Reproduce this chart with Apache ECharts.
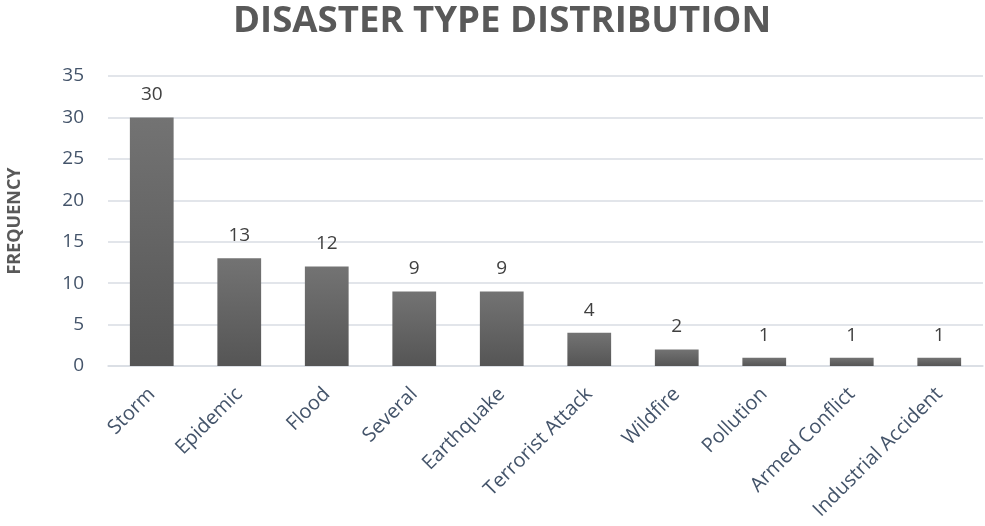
<!DOCTYPE html>
<html>
<head>
<meta charset="utf-8">
<script src="https://cdn.jsdelivr.net/npm/echarts@6/dist/echarts.min.js"></script>
<style>html,body{margin:0;padding:0;background:#fff;}#c{width:985px;height:526px;}</style>
</head>
<body>
<div id="c"></div>
<script>
const categories = ["Storm","Epidemic","Flood","Several","Earthquake","Terrorist Attack","Wildfire","Pollution","Armed Conflict","Industrial Accident"];
const frequency = [30,13,12,9,9,4,2,1,1,1];
const yTicks = [0,5,10,15,20,25,30,35];

const chart = echarts.init(document.getElementById('c'), null, {renderer:'canvas'});
chart.setOption({
  animation:false,
  backgroundColor:'#ffffff',
  title:{
    text:'DISASTER TYPE DISTRIBUTION',
    left:228, top:-2,
    textStyle:{fontFamily:'Open Sans', fontWeight:'bold', fontSize:36.6, color:'#595959'}
  },
  grid:{left:108, right:2, top:76, bottom:160, containLabel:false, outerBoundsMode:'none'},
  xAxis:{
    type:'category',
    data:categories,
    axisTick:{show:false},
    axisLine:{lineStyle:{color:'#d9dde3', width:1.5}},
    axisLabel:{rotate:45, fontFamily:'Open Sans', fontSize:20, color:'#44546A', margin:25, interval:0}
  },
  yAxis:{
    type:'value',
    min:yTicks[0], max:yTicks[yTicks.length-1], interval:5,
    name:'FREQUENCY',
    nameLocation:'middle',
    nameGap:84,
    nameTextStyle:{fontFamily:'Open Sans', fontWeight:'bold', fontSize:18, color:'#595959'},
    axisLine:{show:false},
    axisTick:{show:false},
    splitLine:{lineStyle:{color:'#d9dde3', width:1.5}},
    axisLabel:{fontFamily:'Open Sans', fontSize:19, color:'#44546A', margin:24, align:'right'}
  },
  series:[{
    type:'bar',
    data:frequency,
    barWidth:'50%',
    itemStyle:{color:new echarts.graphic.LinearGradient(0,0,0,1,[{offset:0,color:'#737373'},{offset:1,color:'#555555'}])},
    label:{show:true, position:'top', distance:13, fontFamily:'Open Sans', fontSize:19, color:'#404040'}
  }]
});
</script>
</body>
</html>
